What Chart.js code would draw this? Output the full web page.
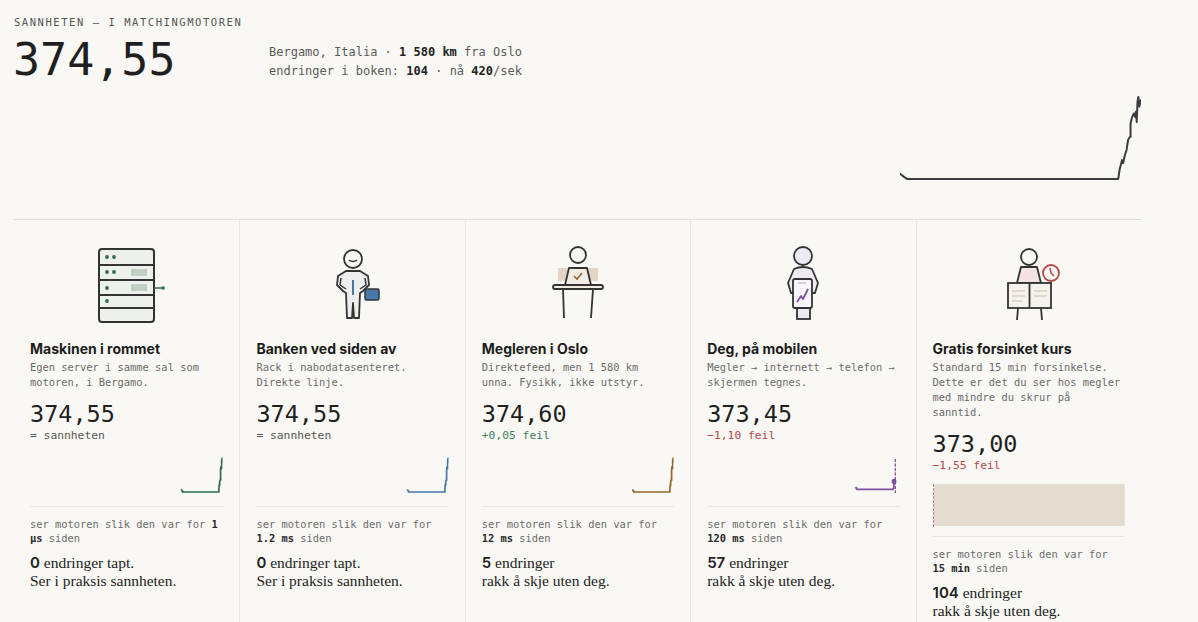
<!DOCTYPE html>
<html lang="no">
<head>
<meta charset="utf-8">
<title>Sannheten i matchingmotoren</title>
<script src="https://cdn.jsdelivr.net/npm/chart.js@4.4.1/dist/chart.umd.min.js"></script>
<style>
  html, body { margin: 0; padding: 0; width: 1198px; height: 622px; overflow: hidden; background: #faf8f4; }
  body { position: relative; font-family: "DejaVu Sans Mono", monospace; color: #1f1f1f; }
  .kicker { position: absolute; left: 14px; top: 14.7px; font-size: 10.5px; line-height: 14px; letter-spacing: 1.55px; color: #555; white-space: nowrap; }
  .big { position: absolute; left: 13px; top: 34.4px; font-size: 45px; line-height: 52px; white-space: nowrap; }
  .info { position: absolute; left: 269px; top: 42.8px; font-size: 12px; line-height: 19.5px; color: #5a5a5a; white-space: nowrap; }
  .info b { color: #222; font-weight: bold; }
  #mainWrap { position: absolute; left: 900px; top: 95px; width: 241px; height: 87px; }
  .rule { position: absolute; left: 14px; top: 219px; width: 1127px; height: 1px; background: #e2ddd5; }
  .cards { position: absolute; left: 14px; top: 220px; width: 1127px; height: 402px; display: flex; }
  .card { flex: 0 0 225.4px; width: 225.4px; min-width: 0; box-sizing: border-box; padding: 0 16px; height: 402px; overflow: hidden; }
  .card + .card { border-left: 1px solid #ebe6df; }
  .icon { display: block; width: 80px; height: 80px; margin: 25px auto 15px; }
  .title { font-family: Inter, "Noto Sans", sans-serif; font-weight: 700; font-size: 14px; line-height: 18px; color: #1c1c1c; white-space: nowrap; }
  .desc { margin-top: 2px; font-size: 10.4px; line-height: 15px; color: #6b6b6b; white-space: nowrap; }
  .val { margin-top: 10px; font-size: 23.5px; line-height: 28px; color: #1f1f1f; white-space: nowrap; }
  .sub { font-size: 11.3px; line-height: 16px; color: #555; white-space: nowrap; }
  .sub.pos { color: #3f7d5c; }
  .sub.neg { color: #b5494a; }
  .spark { position: relative; margin-top: 8.5px; height: 44px; width: 100%; overflow: visible; }
  .spark canvas { position: absolute; left: 0; top: 0; }
  .sep { margin-top: 9.7px; height: 1px; background: #ebe6df; }
  .lag { margin-top: 9.5px; font-size: 10.4px; line-height: 14px; color: #6b6b6b; white-space: nowrap; }
  .lag b { color: #2a2a2a; font-weight: bold; }
  .res { margin-top: 9px; font-family: "Liberation Serif", serif; font-size: 15.5px; line-height: 18.5px; color: #222; white-space: nowrap; }
  .res b { font-family: Inter, sans-serif; font-weight: 600; font-size: 15px; }
</style>
</head>
<body>
<div class="kicker">SANNHETEN — I MATCHINGMOTOREN</div>
<div class="big" id="bigPrice"></div>
<div class="info" id="info"></div>
<div id="mainWrap"><canvas id="mainChart"></canvas></div>
<div class="rule"></div>
<div class="cards" id="cards"></div>

<script>
// kursen i matchingmotoren, sekunder før nå
const mainTimes  = [-900, -885, -874, -85, -80, -71, -67, -60, -54, -48, -41, -39, -33, -26, -22, -19, -16, -13, -10, -6, -3, 0];
const mainPrices = [373.10, 373.04, 373.00, 373.00, 373.18, 373.37, 373.31, 373.47, 373.57, 373.77, 373.83, 374.09, 374.22, 374.29, 374.22, 374.32, 374.12, 374.52, 374.61, 374.42, 374.52, 374.55];

// megleren i Oslo ser litt for høyt på slutten
const meglerPrices = [373.10, 373.04, 373.00, 373.00, 373.18, 373.37, 373.31, 373.47, 373.57, 373.77, 373.83, 374.09, 374.22, 374.29, 374.22, 374.32, 374.12, 374.52, 374.61, 374.45, 374.55, 374.60];

// mobilen henger etter
const mobilTimes  = [-900, -885, -874, -60, -45, -35, -25];
const mobilPrices = [373.10, 373.04, 373.00, 373.00, 373.05, 373.20, 373.45];

// gratis kurs: hele vinduet er forsinkelse
const forsinkelseVindu = [-900, 0];

const truePrice = 374.55;
const distanceKm = "1 580";
const bookChanges = 104;
const changesPerSec = 420;

const cardTitles = ["Maskinen i rommet", "Banken ved siden av", "Megleren i Oslo", "Deg, på mobilen", "Gratis forsinket kurs"];
const cardDesc = [
  ["Egen server i samme sal som", "motoren, i Bergamo."],
  ["Rack i nabodatasenteret.", "Direkte linje."],
  ["Direktefeed, men 1 580 km", "unna. Fysikk, ikke utstyr."],
  ["Megler → internett → telefon →", "skjermen tegnes."],
  ["Standard 15 min forsinkelse.", "Dette er det du ser hos megler", "med mindre du skrur på", "sanntid."]
];
const cardPrices = [374.55, 374.55, 374.60, 373.45, 373.00];
const cardLags = ["1 µs", "1.2 ms", "12 ms", "120 ms", "15 min"];
const cardMissed = [0, 0, 5, 57, 104];
const cardColors = ["#2f6b4c", "#4677a6", "#94652b", "#7b4f9e", "#c0706a"];

const icons = [
  `<rect x="12" y="4" width="55" height="73" rx="3" fill="#eef0ec" stroke="#333" stroke-width="2"/>
   <path d="M12 20H67M12 35H67M12 50H67M12 63H67" stroke="#333" stroke-width="1.8"/>
   <rect x="44" y="24" width="16" height="7" fill="#bfd0c2"/><rect x="44" y="39" width="16" height="7" fill="#bfd0c2"/>
   <g fill="#2f6b4c"><circle cx="20" cy="12" r="1.9"/><circle cx="27" cy="12" r="1.9"/><circle cx="20" cy="27" r="1.9"/><circle cx="27" cy="27" r="1.9"/><circle cx="20" cy="43" r="1.9"/><circle cx="20" cy="56" r="1.9"/><circle cx="76" cy="43" r="1.8"/></g>
   <path d="M67 43H75" stroke="#2f6b4c" stroke-width="1.5"/>`,
  `<path d="M33 26L47 26L55 31L56 40L50 46L47 48L46 73L41 73L40 58L39 73L34 73L33 48L30 46L24 40L25 31Z" fill="#eceef0" stroke="#333" stroke-width="1.8" stroke-linejoin="round"/>
   <path d="M28 33L27 40L33 44M52 33L53 40L47 44" fill="none" stroke="#333" stroke-width="1.5" stroke-linejoin="round"/>
   <path d="M40 35V50" stroke="#4677a6" stroke-width="2"/>
   <circle cx="40" cy="14" r="9" fill="#faf8f4" stroke="#333" stroke-width="1.8"/>
   <path d="M36 15Q40 18 44 15" fill="none" stroke="#333" stroke-width="1.5"/>
   <rect x="52" y="44" width="14" height="11" rx="1.5" fill="#4a78a8" stroke="#333" stroke-width="1.5"/>`,
  `<rect x="20" y="23" width="40" height="13" fill="#e3d5c4"/>
   <path d="M31 23L49 23L53 40L27 40Z" fill="#f1ece4" stroke="#333" stroke-width="1.8" stroke-linejoin="round"/>
   <circle cx="40" cy="10" r="8" fill="#faf8f4" stroke="#333" stroke-width="1.8"/>
   <path d="M36 31L39 34L44 28" fill="none" stroke="#94652b" stroke-width="1.6"/>
   <rect x="15" y="40" width="50" height="4" rx="2" fill="#f1ece4" stroke="#333" stroke-width="1.8"/>
   <path d="M25 44L26 73M55 44L53 73" stroke="#333" stroke-width="1.8"/>`,
  `<path d="M31 24Q40 20 49 24L55 38L52 48L28 48L25 38Z" fill="#eeeaf4" stroke="#333" stroke-width="1.8" stroke-linejoin="round"/>
   <circle cx="40" cy="11" r="9" fill="#eeeaf4" stroke="#333" stroke-width="1.8"/>
   <rect x="34" y="63" width="13" height="11" fill="#eeeaf4" stroke="#333" stroke-width="1.8"/>
   <rect x="30" y="34" width="19" height="29" rx="2" fill="#f8f6fa" stroke="#333" stroke-width="1.8"/>
   <path d="M35 38H43" stroke="#c9c4cf" stroke-width="1.5"/>
   <path d="M34 57L38 51L40 54L45 44" fill="none" stroke="#7b4f9e" stroke-width="1.8" stroke-linejoin="round"/>`,
  `<path d="M32 22L48 22L52 38L28 38Z" fill="#f3e4e3" stroke="#333" stroke-width="1.8" stroke-linejoin="round"/>
   <circle cx="40" cy="12" r="8" fill="#faf8f4" stroke="#333" stroke-width="1.8"/>
   <rect x="19" y="38" width="43" height="25" fill="#f6f3ee" stroke="#333" stroke-width="1.8"/>
   <path d="M40.5 38V63" stroke="#333" stroke-width="1.8"/>
   <path d="M23 46H36M23 51H36M23 56H33M45 46H58M45 51H58" stroke="#d9cfc0" stroke-width="1.5"/>
   <path d="M29 63L28 75M52 63L53 75" stroke="#333" stroke-width="1.8"/>
   <circle cx="62" cy="28" r="8" fill="#faf8f4" stroke="#b5474a" stroke-width="1.8"/>
   <path d="M61 23L62 28L65 31" fill="none" stroke="#b5474a" stroke-width="1.5"/>`
];

const fmt = (v) => v.toFixed(2).replace(".", ",");

document.getElementById("bigPrice").textContent = fmt(truePrice);
document.getElementById("info").innerHTML =
  `Bergamo, Italia · <b>${distanceKm} km</b> fra Oslo<br>endringer i boken: <b>${bookChanges}</b> · nå <b>${changesPerSec}</b>/sek`;

// kortene
const cardsEl = document.getElementById("cards");
cardTitles.forEach((title, i) => {
  const diff = Math.round((cardPrices[i] - truePrice) * 100) / 100;
  let subText = "= sannheten", subCls = "";
  if (diff > 0) { subText = "+" + fmt(diff) + " feil"; subCls = "pos"; }
  if (diff < 0) { subText = "\u2212" + fmt(-diff) + " feil"; subCls = "neg"; }

  const lagParts = cardLags[i].split(" ");
  const lagHtml = i === 0
    ? `ser motoren slik den var for <b>${lagParts[0]}</b><br><b>${lagParts[1]}</b> siden`
    : `ser motoren slik den var for<br><b>${cardLags[i]}</b> siden`;

  const resHtml = cardMissed[i] === 0
    ? `<b>${cardMissed[i]}</b> endringer tapt.<br>Ser i praksis sannheten.`
    : `<b>${cardMissed[i]}</b> endringer<br>rakk å skje uten deg.`;

  const card = document.createElement("div");
  card.className = "card";
  card.innerHTML = `
    <svg class="icon" viewBox="0 0 80 80" width="80" height="80">${icons[i]}</svg>
    <div class="title">${title}</div>
    <div class="desc">${cardDesc[i].join("<br>")}</div>
    <div class="val">${fmt(cardPrices[i])}</div>
    <div class="sub ${subCls}">${subText}</div>
    <div class="spark"><canvas id="spark${i}"></canvas></div>
    <div class="sep"></div>
    <div class="lag">${lagHtml}</div>
    <div class="res">${resHtml}</div>`;
  cardsEl.appendChild(card);
});

function lineOptions(xmin, xmax, ymin, ymax) {
  return {
    responsive: true,
    maintainAspectRatio: false,
    animation: false,
    layout: { padding: 0 },
    plugins: { legend: { display: false }, tooltip: { enabled: false } },
    elements: { point: { radius: 0 }, line: { tension: 0, borderJoinStyle: "round", borderCapStyle: "round" } },
    scales: {
      x: { type: "linear", display: false, min: xmin, max: xmax },
      y: { display: false, min: ymin, max: ymax }
    }
  };
}

const toPoints = (xs, ys) => xs.map((x, k) => ({ x: x, y: ys[k] }));

// hovedgrafen
new Chart(document.getElementById("mainChart"), {
  type: "line",
  data: { datasets: [{ data: toPoints(mainTimes, mainPrices), borderColor: "#3b3b40", borderWidth: 2, fill: false }] },
  options: lineOptions(-900, 0, 372.94, 374.65)
});

// små grafer i kortene
const sparkX = [-4200, 0];
const sparkY = [372.80, 374.83];
const sparkSeries = [
  toPoints(mainTimes, mainPrices),
  toPoints(mainTimes, mainPrices),
  toPoints(mainTimes, meglerPrices)
];
sparkSeries.forEach((pts, i) => {
  new Chart(document.getElementById("spark" + i), {
    type: "line",
    data: { datasets: [{ data: pts, borderColor: cardColors[i], borderWidth: 1.7, fill: false }] },
    options: lineOptions(sparkX[0], sparkX[1], sparkY[0], sparkY[1])
  });
});

// mobilen: linjen stopper før nå, med prikk og stiplet nå-linje
const mobilPts = toPoints(mobilTimes, mobilPrices);
new Chart(document.getElementById("spark3"), {
  type: "line",
  data: {
    datasets: [
      {
        data: mobilPts, borderColor: cardColors[3], borderWidth: 1.7, fill: false,
        pointRadius: (ctx) => (ctx.dataIndex === mobilPts.length - 1 ? 2.6 : 0),
        pointBackgroundColor: cardColors[3], pointBorderWidth: 0
      },
      {
        data: [{ x: 0, y: sparkY[0] }, { x: 0, y: sparkY[1] }],
        borderColor: cardColors[3], borderWidth: 1.3, borderDash: [2, 2.5], fill: false
      }
    ]
  },
  options: lineOptions(sparkX[0], 25, sparkY[0], sparkY[1])
});

// gratis forsinket kurs: hele vinduet er skjult
new Chart(document.getElementById("spark4"), {
  type: "line",
  data: {
    datasets: [
      {
        data: forsinkelseVindu.map((x) => ({ x: x, y: 1 })),
        borderWidth: 0, borderColor: "rgba(0,0,0,0)", backgroundColor: "#e3dbd0", fill: "start"
      },
      {
        data: [{ x: forsinkelseVindu[0], y: 0 }, { x: forsinkelseVindu[0], y: 1 }],
        borderColor: cardColors[4], borderWidth: 1, borderDash: [2, 2], fill: false, clip: 2
      }
    ]
  },
  options: lineOptions(forsinkelseVindu[0], forsinkelseVindu[1], 0, 1)
});
</script>
</body>
</html>
